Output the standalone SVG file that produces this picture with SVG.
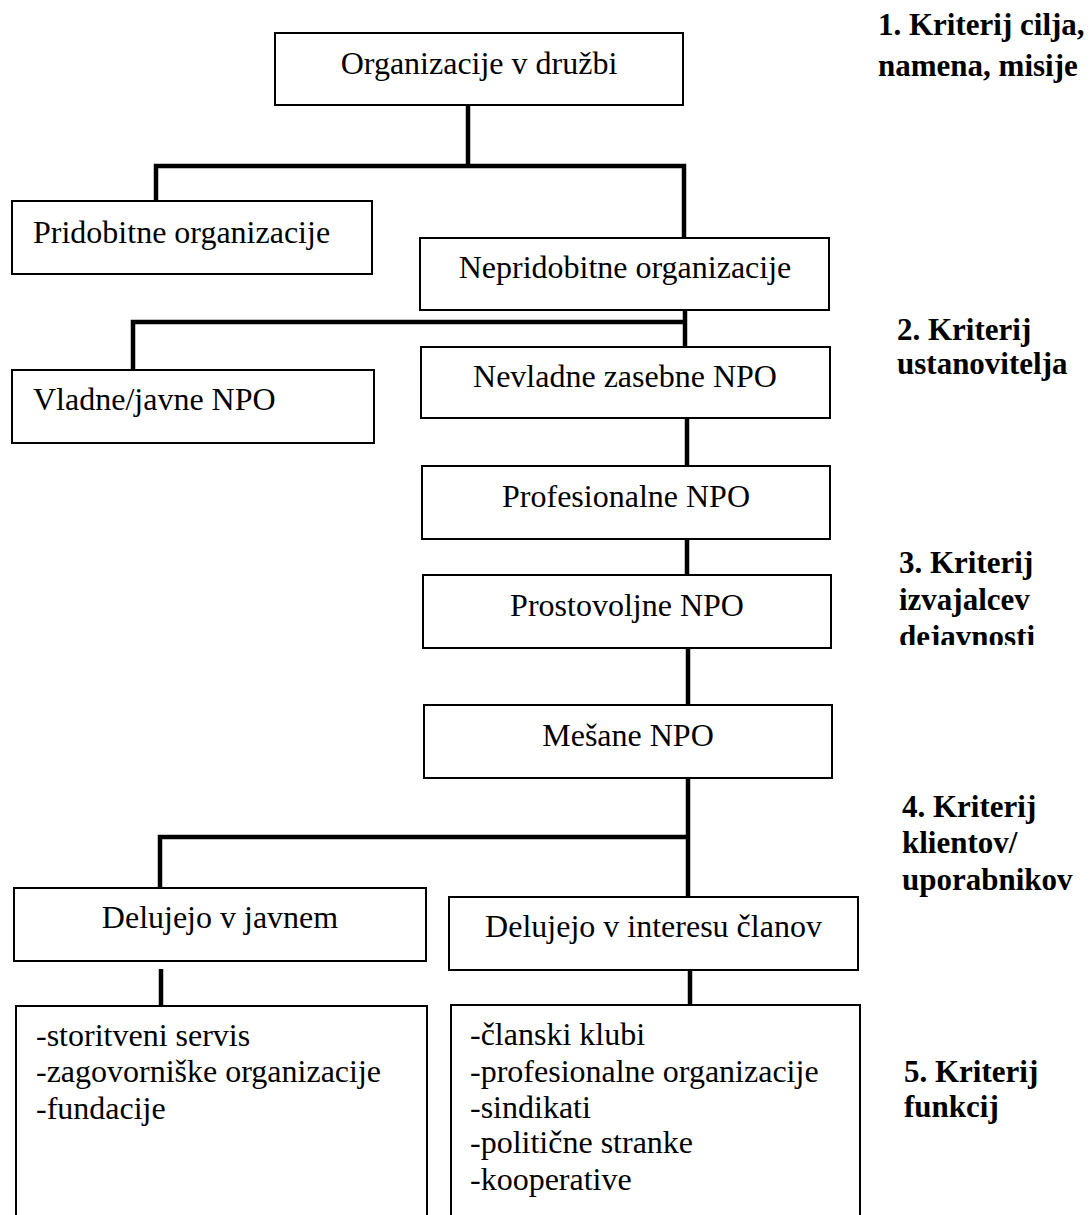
<svg xmlns="http://www.w3.org/2000/svg" width="1091" height="1215" viewBox="0 0 1091 1215">
<style>
.box{fill:#fff;stroke:#000;stroke-width:2}
.t{font-family:"Liberation Serif","Times New Roman",serif;font-size:32px;fill:#000}
.c{text-anchor:middle}
.k{font-family:"Liberation Serif","Times New Roman",serif;font-size:31px;font-weight:bold;fill:#000}
.conn{fill:none;stroke:#000;stroke-width:4.5;stroke-linejoin:miter;stroke-linecap:butt}
</style>
<defs>
<clipPath id="clipDej"><rect x="860" y="600" width="231" height="45"/></clipPath>
</defs>
<rect width="1091" height="1215" fill="#fff"/>

<g id="connectors">
<path class="conn" d="M468,105 V166"/>
<path class="conn" d="M156,201 V166 H684 V238"/>
<path class="conn" d="M685,310 V347"/>
<path class="conn" d="M133,370 V322 H685"/>
<path class="conn" d="M687,418 V466"/>
<path class="conn" d="M687,539 V575"/>
<path class="conn" d="M688,648 V705"/>
<path class="conn" d="M688,778 V897"/>
<path class="conn" d="M160,888 V837 H688"/>
<path class="conn" d="M161,969 V1006"/>
<path class="conn" d="M690,970 V1005"/>
</g>

<g id="n-organizacije">
<rect class="box" x="275" y="33" width="408" height="72"/>
<text class="t c" x="479" y="74">Organizacije v družbi</text>
</g>
<g id="n-pridobitne">
<rect class="box" x="12" y="201" width="360" height="73"/>
<text class="t" x="33" y="243">Pridobitne organizacije</text>
</g>
<g id="n-nepridobitne">
<rect class="box" x="420" y="238" width="409" height="72"/>
<text class="t c" x="625" y="278">Nepridobitne organizacije</text>
</g>
<g id="n-vladne">
<rect class="box" x="12" y="370" width="362" height="73"/>
<text class="t" x="33" y="410">Vladne/javne NPO</text>
</g>
<g id="n-nevladne">
<rect class="box" x="421" y="347" width="409" height="71"/>
<text class="t c" x="625" y="387">Nevladne zasebne NPO</text>
</g>
<g id="n-profesionalne">
<rect class="box" x="422" y="466" width="408" height="73"/>
<text class="t c" x="626" y="507">Profesionalne NPO</text>
</g>
<g id="n-prostovoljne">
<rect class="box" x="423" y="575" width="408" height="73"/>
<text class="t c" x="627" y="616">Prostovoljne NPO</text>
</g>
<g id="n-mesane">
<rect class="box" x="424" y="705" width="408" height="73"/>
<text class="t c" x="628" y="746">Mešane NPO</text>
</g>
<g id="n-javnem">
<rect class="box" x="14" y="888" width="412" height="73"/>
<text class="t c" x="220" y="928">Delujejo v javnem</text>
</g>
<g id="n-interesu">
<rect class="box" x="449" y="897" width="409" height="73"/>
<text class="t c" x="653.5" y="937">Delujejo v interesu članov</text>
</g>
<g id="n-list-javnem">
<rect class="box" x="16" y="1006" width="411" height="230"/>
<text class="t" x="36" y="1046">-storitveni servis</text>
<text class="t" x="36" y="1082">-zagovorniške organizacije</text>
<text class="t" x="36" y="1119">-fundacije</text>
</g>
<g id="n-list-interesu">
<rect class="box" x="451" y="1005" width="409" height="230"/>
<text class="t" x="470" y="1045">-članski klubi</text>
<text class="t" x="470" y="1082">-profesionalne organizacije</text>
<text class="t" x="470" y="1118">-sindikati</text>
<text class="t" x="470" y="1153">-politične stranke</text>
<text class="t" x="470" y="1190">-kooperative</text>
</g>

<g id="criteria">
<text class="k" x="878" y="35">1. Kriterij cilja,</text>
<text class="k" x="878" y="76">namena, misije</text>
<text class="k" x="897" y="340">2. Kriterij</text>
<text class="k" x="897" y="374">ustanovitelja</text>
<text class="k" x="899" y="573">3. Kriterij</text>
<text class="k" x="899" y="610">izvajalcev</text>
<text class="k" x="899" y="647" clip-path="url(#clipDej)">dejavnosti</text>
<text class="k" x="902" y="817">4. Kriterij</text>
<text class="k" x="902" y="853">klientov/</text>
<text class="k" x="902" y="890">uporabnikov</text>
<text class="k" x="904" y="1082">5. Kriterij</text>
<text class="k" x="904" y="1117">funkcij</text>
</g>
</svg>
